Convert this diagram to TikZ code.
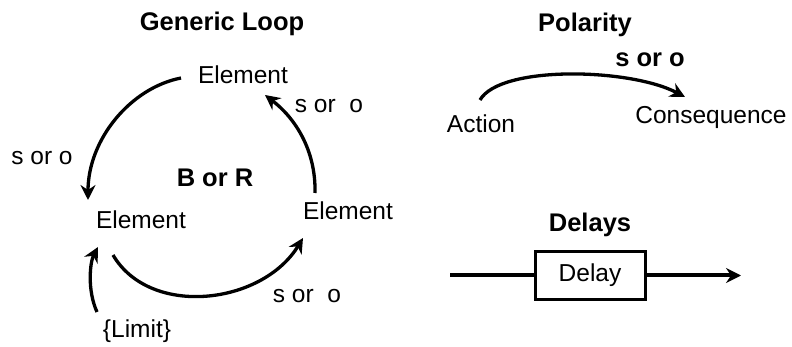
\documentclass[tikz,border=0pt]{standalone}
\usepackage{fontspec}
\setmainfont{Liberation Sans}
\usetikzlibrary{calc,arrows.meta}
\begin{document}
\begin{tikzpicture}[x=1pt,y=-1pt,
  txt/.style={anchor=base,inner sep=0pt,font=\fontsize{24.5}{28}\selectfont},
  btxt/.style={anchor=base,inner sep=0pt,font=\fontsize{25.5}{30}\selectfont\bfseries},
  link/.style={line width=3.3pt,-{Stealth[length=15pt,width=15pt,inset=5pt]}},
  delaybox/.style={draw,line width=3pt,minimum width=110pt,minimum height=47pt,inner sep=0pt,font=\fontsize{24.5}{28}\selectfont}]
\useasboundingbox (0,0) rectangle (792,347);
% titles
\node[btxt] (tgen) at (222,31) {Generic Loop};
\node[btxt] (tpol) at (585,32) {Polarity};
\node[btxt] (tdel) at (590,232) {Delays};
% loop
\node[txt] (etop) at (243,84) {Element};
\node[txt] (eleft) at (141,229) {Element};
\node[txt] (eright) at (348,220) {Element};
\node[btxt] (bor) at (215,187) {B or R};
\node[txt] (sl) at (42,165) {s or o};
\node[txt] (sr) at (329,113) {s or\ \ o};
\node[txt] (sb) at (307,302) {s or\ \ o};
\node[txt] (limit) at (137,337) {\{Limit\}};
\draw[link] ($(etop.base)+(-62,-6)$) .. controls (130,88) and (88,140) .. ($(eleft.base)+(-53,-29)$);
\draw[link] ($(eleft.base)+(-28,26)$) .. controls (150,318) and (262,305) .. ($(eright.base)+(-45,18)$);
\draw[link] ($(eright.base)+(-33,-27)$) .. controls (316,150) and (295,118) .. ($(etop.base)+(22,11)$);
\draw[link] ($(limit.base)+(-40,-25)$) .. controls (87,290) and (90,262) .. ($(eleft.base)+(-43,18)$);
% polarity
\node[txt] (action) at (481,133) {Action};
\node[txt] (conseq) at (711,124) {Consequence};
\node[btxt] (spol) at (650,67) {s or o};
\draw[link] ($(action.base)+(-1,-33)$) .. controls (500,65) and (630,68) .. ($(conseq.base)+(-26,-27)$);
% delays
\node[delaybox] (delay) at (590,275.5) {Delay};
\coordinate (din) at (450,275.5);
\coordinate (dout) at (741,275.5);
\draw[line width=4pt] (din) -- (delay.west);
\draw[link,line width=4pt] (delay.east) -- (dout);
\end{tikzpicture}
\end{document}
